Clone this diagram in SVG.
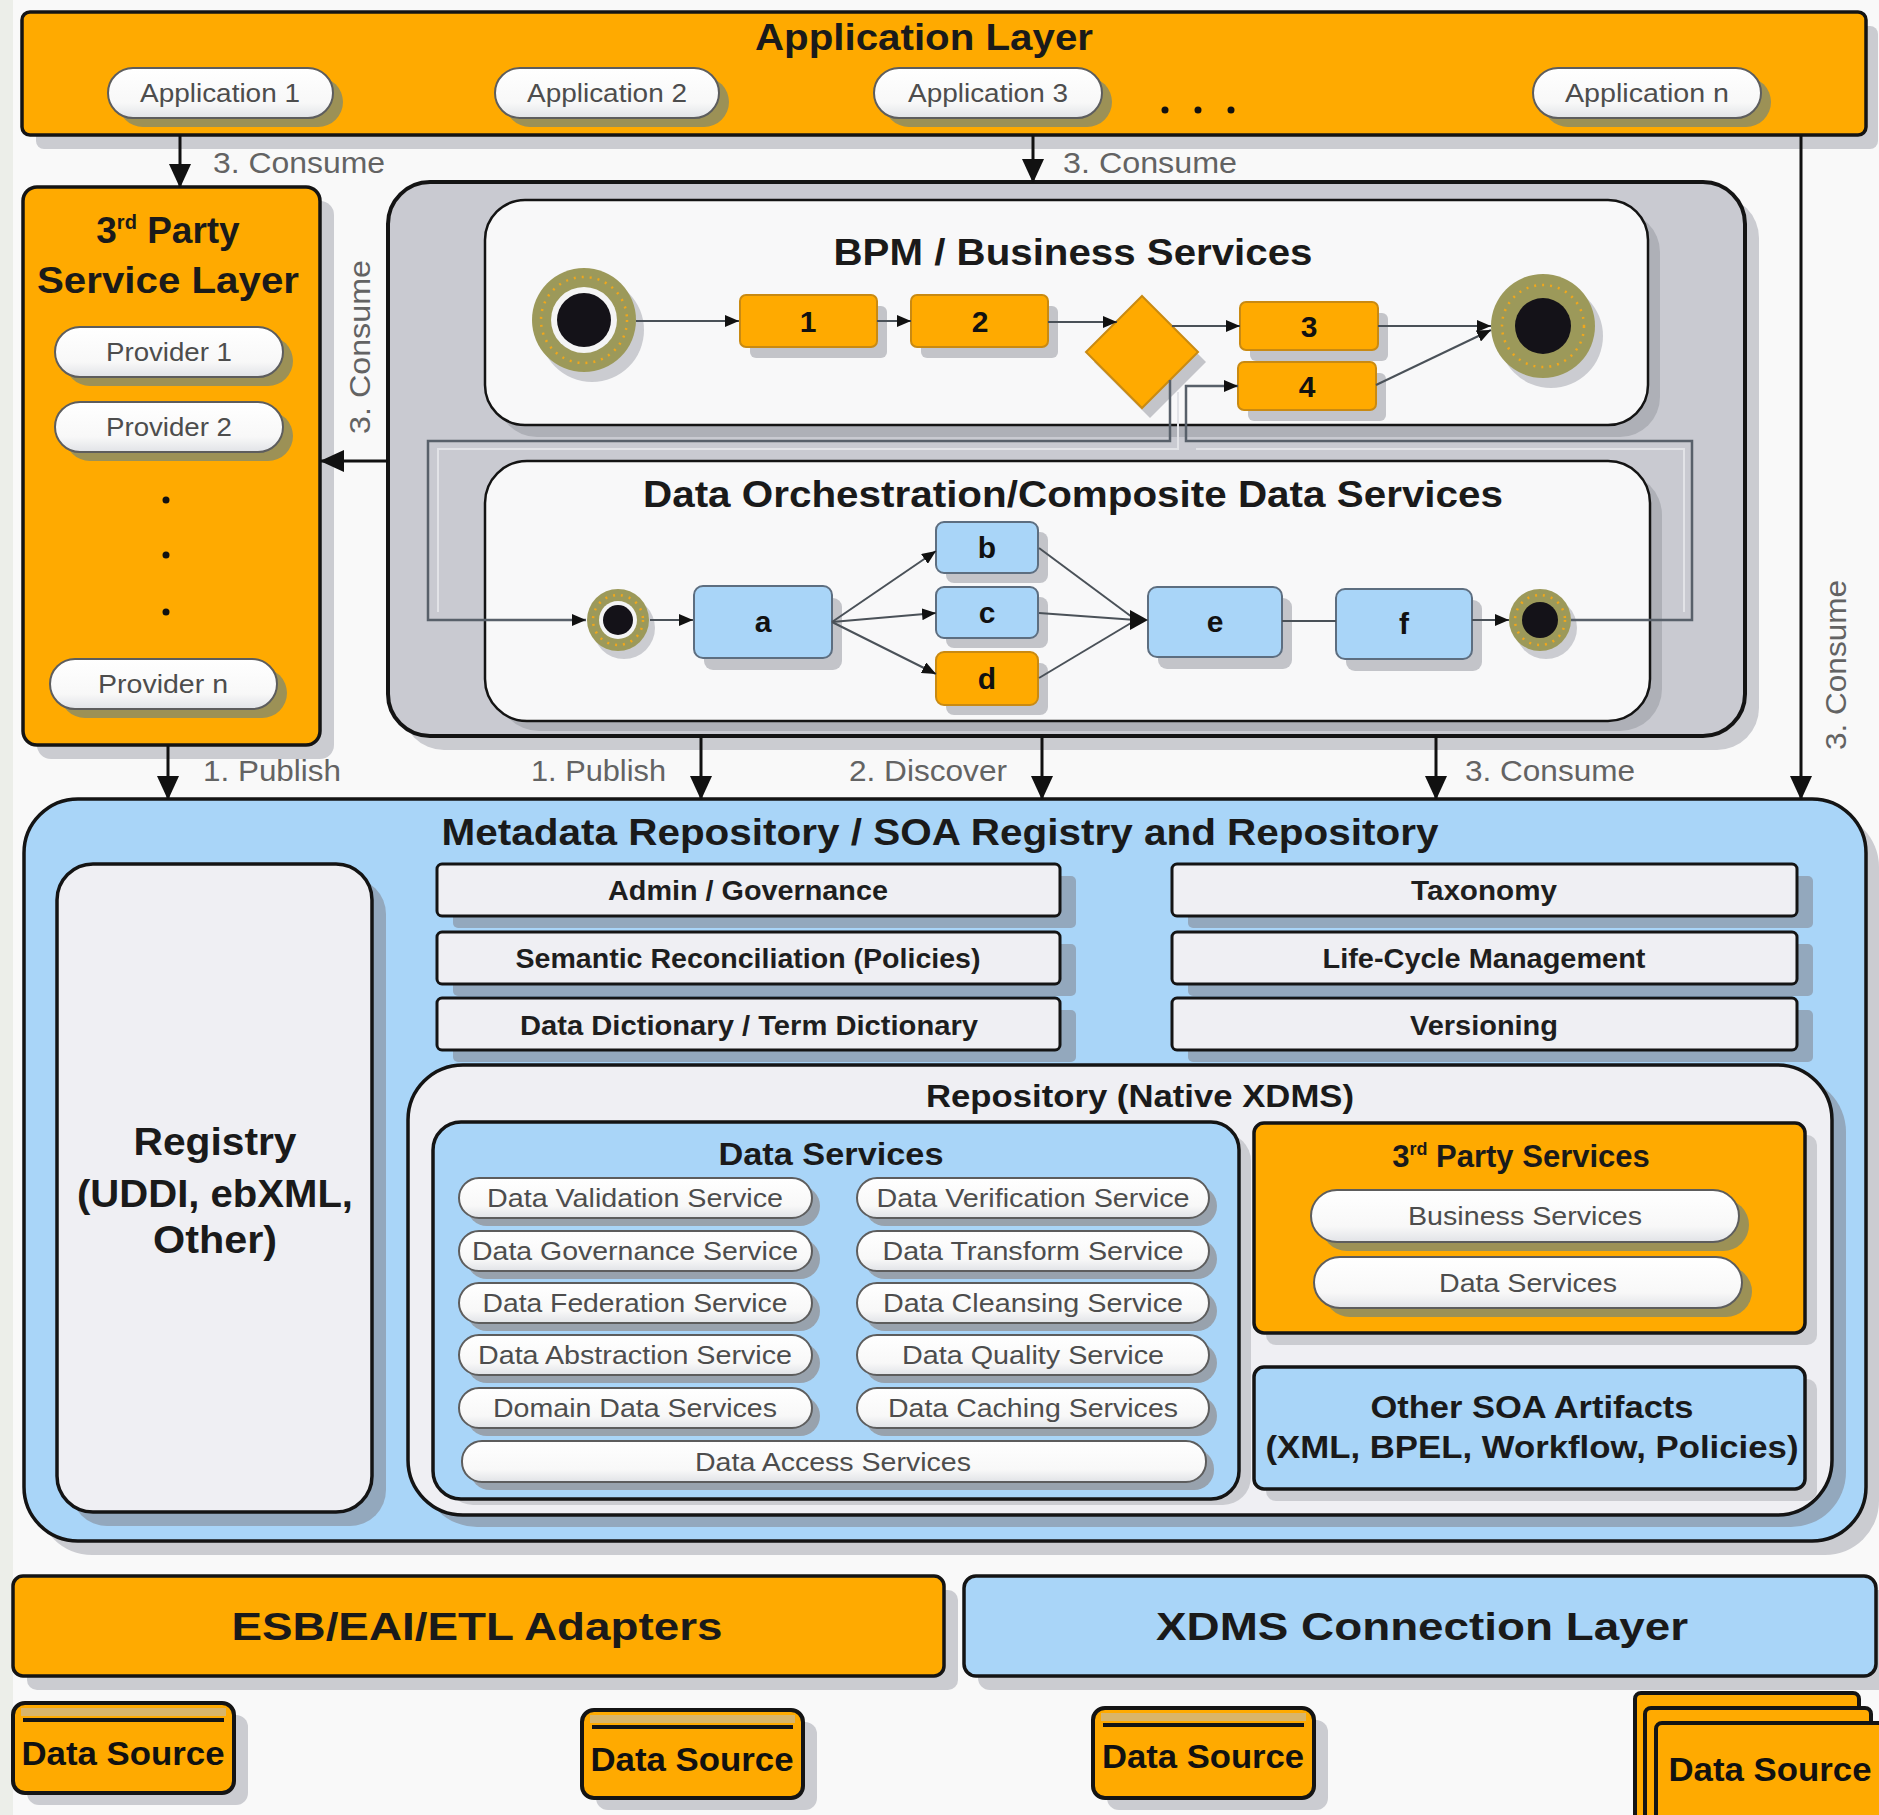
<svg xmlns="http://www.w3.org/2000/svg" width="1879" height="1815" viewBox="0 0 1879 1815">
<defs>
<style>
text{font-family:"Liberation Sans",Arial,Helvetica,sans-serif}
.ttl{font-weight:bold;fill:#1a1a1a;text-anchor:middle}
.lbl{font-size:30px;fill:#636363}
.pt{font-size:26px;fill:#4d4d4d;text-anchor:middle}
.bt{font-size:27px;font-weight:bold;fill:#1e1e1e;text-anchor:middle}
.bar{fill:#efeff3;stroke:#141414;stroke-width:3}
.barsh{fill:#93a8bd}
.orange{fill:#FFAA00;stroke:#141414;stroke-width:3.5}
.blue{fill:#A9D5F8;stroke:#141414;stroke-width:3.5}
.pale{fill:#efeff3;stroke:#141414;stroke-width:3.5}
.sh{fill:#cbccd1}
.sh2{fill:#aeb0b7}
.pill{fill:url(#pg);stroke:#5d5d5d;stroke-width:2}
.psho{fill:#9c9156}
.pshb{fill:#98a2ad}
.flow{stroke:#4a5158;stroke-width:2;fill:none}
.loop{stroke:#58606a;stroke-width:2.5;fill:none}
.loop2{stroke:#e2e3e7;stroke-width:2;fill:none}
.con{stroke:#111;stroke-width:3;fill:none}
.stepo{fill:#FFAA00;stroke:#c98a12;stroke-width:2}
.stepb{fill:#A9D5F8;stroke:#5d6e80;stroke-width:2}
.stepsh{fill:#c3c4c9}
.num{font-weight:bold;font-size:30px;fill:#111;text-anchor:middle}
.olive{fill:#9c995a}
.speck{fill:none;stroke:#f0a71c;stroke-width:2.5;stroke-dasharray:2 6}
.dot{fill:#111}
.ds{fill:#FFAA00;stroke:#141414;stroke-width:4}
.dsband{fill:#d9b56a}
.dsline{stroke:#141414;stroke-width:4}
.dst{font-size:34px;font-weight:bold;fill:#111;text-anchor:middle}
</style>
<linearGradient id="pg" x1="0" y1="0" x2="0" y2="1">
<stop offset="0" stop-color="#ffffff"/>
<stop offset="0.7" stop-color="#f8f8f8"/>
<stop offset="1" stop-color="#e1e3e7"/>
</linearGradient>
<marker id="big" markerWidth="24" markerHeight="22" refX="23" refY="11" orient="auto" markerUnits="userSpaceOnUse">
<path d="M0,0 L24,11 L0,22 z" fill="#111"/>
</marker>
<marker id="sm" markerWidth="14" markerHeight="12" refX="14" refY="6" orient="auto" markerUnits="userSpaceOnUse">
<path d="M0,0 L14,6 L0,12 z" fill="#111"/>
</marker>
</defs>

<rect x="0" y="0" width="1879" height="1815" fill="#f9f9f9"/>
<rect x="0" y="0" width="13" height="1815" fill="#eceee9"/>

<!-- Application Layer -->
<g id="application-layer">
<rect class="sh" x="36" y="26" width="1842" height="123" rx="8"/>
<rect class="orange" x="22" y="12" width="1844" height="123" rx="8"/>
<text class="ttl" x="924" y="50" font-size="36" textLength="338" lengthAdjust="spacingAndGlyphs">Application Layer</text>
<circle class="dot" cx="1165" cy="110" r="3.5"/>
<circle class="dot" cx="1198" cy="110" r="3.5"/>
<circle class="dot" cx="1231" cy="110" r="3.5"/>
</g>
<g id="app1">
<rect class="psho" x="118" y="77" width="225" height="50" rx="25"/>
<rect class="pill" x="108" y="68" width="225" height="50" rx="25"/>
<text class="pt" x="220" y="102" textLength="160" lengthAdjust="spacingAndGlyphs">Application 1</text>
</g>
<g id="app2">
<rect class="psho" x="505" y="77" width="224" height="50" rx="25"/>
<rect class="pill" x="495" y="68" width="224" height="50" rx="25"/>
<text class="pt" x="607" y="102" textLength="160" lengthAdjust="spacingAndGlyphs">Application 2</text>
</g>
<g id="app3">
<rect class="psho" x="884" y="77" width="228" height="50" rx="25"/>
<rect class="pill" x="874" y="68" width="228" height="50" rx="25"/>
<text class="pt" x="988" y="102" textLength="160" lengthAdjust="spacingAndGlyphs">Application 3</text>
</g>
<g id="appn">
<rect class="psho" x="1543" y="77" width="228" height="50" rx="25"/>
<rect class="pill" x="1533" y="68" width="228" height="50" rx="25"/>
<text class="pt" x="1647" y="102" textLength="164" lengthAdjust="spacingAndGlyphs">Application n</text>
</g>

<!-- 3rd Party Service Layer -->
<g id="third-party-layer">
<rect class="sh" x="37" y="201" width="297" height="558" rx="14"/>
<rect class="orange" x="23" y="187" width="297" height="558" rx="14"/>
<text class="ttl" x="168" y="243" font-size="37">3<tspan font-size="20" dy="-14">rd</tspan><tspan dy="14"> Party</tspan></text>
<text class="ttl" x="168" y="293" font-size="37" textLength="262" lengthAdjust="spacingAndGlyphs">Service Layer</text>
<circle class="dot" cx="166" cy="500" r="3.5"/>
<circle class="dot" cx="166" cy="555" r="3.5"/>
<circle class="dot" cx="166" cy="612" r="3.5"/>
</g>
<g id="provider1">
<rect class="psho" x="65" y="336" width="228" height="50" rx="25"/>
<rect class="pill" x="55" y="327" width="228" height="50" rx="25"/>
<text class="pt" x="169" y="361" textLength="126" lengthAdjust="spacingAndGlyphs">Provider 1</text>
</g>
<g id="provider2">
<rect class="psho" x="65" y="411" width="228" height="50" rx="25"/>
<rect class="pill" x="55" y="402" width="228" height="50" rx="25"/>
<text class="pt" x="169" y="436" textLength="126" lengthAdjust="spacingAndGlyphs">Provider 2</text>
</g>
<g id="providern">
<rect class="psho" x="60" y="668" width="227" height="50" rx="25"/>
<rect class="pill" x="50" y="659" width="227" height="50" rx="25"/>
<text class="pt" x="163" y="693" textLength="130" lengthAdjust="spacingAndGlyphs">Provider n</text>
</g>

<!-- BPM container -->
<g id="bpm-container">
<rect class="sh" x="402" y="196" width="1357" height="554" rx="42"/>
<rect x="388" y="182" width="1357" height="554" rx="42" fill="#c9cad1" stroke="#141414" stroke-width="4"/>
</g>
<g id="bpm-business-services">
<rect class="sh2" x="497" y="212" width="1163" height="225" rx="40"/>
<rect x="485" y="200" width="1163" height="225" rx="40" fill="#f8f8f9" stroke="#141414" stroke-width="2.5"/>
<text class="ttl" x="1073" y="265" font-size="37" textLength="479" lengthAdjust="spacingAndGlyphs">BPM / Business Services</text>
</g>
<g id="bpm-start">
<circle class="sh" cx="592" cy="330" r="52"/>
<circle class="olive" cx="584" cy="320" r="52"/>
<circle class="speck" cx="584" cy="320" r="43"/>
<circle cx="584" cy="320" r="33" fill="#f4f4f4"/>
<circle cx="584" cy="320" r="27" fill="#141218"/>
</g>
<g id="bpm-step1">
<rect class="stepsh" x="750" y="306" width="137" height="52" rx="6"/>
<rect class="stepo" x="740" y="295" width="137" height="52" rx="6"/>
<text class="num" x="808" y="332">1</text>
</g>
<g id="bpm-step2">
<rect class="stepsh" x="921" y="306" width="137" height="52" rx="6"/>
<rect class="stepo" x="911" y="295" width="137" height="52" rx="6"/>
<text class="num" x="980" y="332">2</text>
</g>
<g id="bpm-gateway">
<path d="M1150,306 L1206,362 L1150,418 L1094,362 z" class="stepsh"/>
<path d="M1142,296 L1198,352 L1142,408 L1086,352 z" fill="#FFAA00" stroke="#c98a12" stroke-width="2"/>
</g>
<g id="bpm-step3">
<rect class="stepsh" x="1250" y="313" width="138" height="48" rx="6"/>
<rect class="stepo" x="1240" y="302" width="138" height="48" rx="6"/>
<text class="num" x="1309" y="337">3</text>
</g>
<g id="bpm-step4">
<rect class="stepsh" x="1248" y="373" width="138" height="48" rx="6"/>
<rect class="stepo" x="1238" y="362" width="138" height="48" rx="6"/>
<text class="num" x="1307" y="397">4</text>
</g>
<g id="bpm-end">
<circle class="sh" cx="1551" cy="336" r="52"/>
<circle class="olive" cx="1543" cy="326" r="52"/>
<circle class="speck" cx="1543" cy="326" r="41"/>
<circle cx="1543" cy="326" r="28" fill="#141218"/>
</g>

<!-- Data Orchestration -->
<g id="data-orchestration">
<rect class="sh2" x="497" y="473" width="1165" height="258" rx="42"/>
<rect x="485" y="461" width="1165" height="260" rx="42" fill="#f8f8f9" stroke="#141414" stroke-width="2.5"/>
<text class="ttl" x="1073" y="507" font-size="37" textLength="860" lengthAdjust="spacingAndGlyphs">Data Orchestration/Composite Data Services</text>
</g>
<g id="do-start">
<circle class="sh" cx="624" cy="628" r="31"/>
<circle class="olive" cx="618" cy="620" r="31"/>
<circle class="speck" cx="618" cy="620" r="25"/>
<circle cx="618" cy="620" r="19" fill="#f4f4f4"/>
<circle cx="618" cy="620" r="15" fill="#141218"/>
</g>
<g id="do-a">
<rect class="stepsh" x="704" y="598" width="138" height="72" rx="9"/>
<rect class="stepb" x="694" y="586" width="138" height="72" rx="9"/>
<text class="num" x="763" y="632" font-size="28">a</text>
</g>
<g id="do-b">
<rect class="stepsh" x="946" y="532" width="102" height="51" rx="8"/>
<rect class="stepb" x="936" y="522" width="102" height="51" rx="8"/>
<text class="num" x="987" y="558" font-size="28">b</text>
</g>
<g id="do-c">
<rect class="stepsh" x="946" y="597" width="102" height="51" rx="8"/>
<rect class="stepb" x="936" y="587" width="102" height="51" rx="8"/>
<text class="num" x="987" y="623" font-size="28">c</text>
</g>
<g id="do-d">
<rect class="stepsh" x="946" y="663" width="102" height="52" rx="8"/>
<rect class="stepo" x="936" y="652" width="102" height="53" rx="8"/>
<text class="num" x="987" y="689" font-size="28">d</text>
</g>
<g id="do-e">
<rect class="stepsh" x="1158" y="598" width="134" height="71" rx="9"/>
<rect class="stepb" x="1148" y="587" width="134" height="70" rx="9"/>
<text class="num" x="1215" y="632" font-size="28">e</text>
</g>
<g id="do-f">
<rect class="stepsh" x="1346" y="600" width="136" height="71" rx="9"/>
<rect class="stepb" x="1336" y="589" width="136" height="70" rx="9"/>
<text class="num" x="1404" y="634" font-size="28">f</text>
</g>
<g id="do-end">
<circle class="sh" cx="1546" cy="628" r="31"/>
<circle class="olive" cx="1540" cy="620" r="31"/>
<circle class="speck" cx="1540" cy="620" r="25"/>
<circle cx="1540" cy="620" r="18" fill="#141218"/>
</g>

<!-- Metadata Repository -->
<g id="metadata-repository">
<rect class="sh" x="38" y="813" width="1841" height="742" rx="54"/>
<rect class="blue" x="24" y="799" width="1842" height="742" rx="54"/>
<text class="ttl" x="940" y="845" font-size="36" textLength="997" lengthAdjust="spacingAndGlyphs">Metadata Repository / SOA Registry and Repository</text>
</g>
<g id="registry">
<rect class="barsh" x="71" y="878" width="315" height="648" rx="36"/>
<rect class="pale" x="57" y="864" width="315" height="648" rx="36"/>
<text class="ttl" x="215" y="1155" font-size="38" textLength="163" lengthAdjust="spacingAndGlyphs">Registry</text>
<text class="ttl" x="215" y="1207" font-size="38" textLength="276" lengthAdjust="spacingAndGlyphs">(UDDI, ebXML,</text>
<text class="ttl" x="215" y="1253" font-size="38" textLength="124" lengthAdjust="spacingAndGlyphs">Other)</text>
</g>
<g id="admin-governance">
<rect class="barsh" x="453" y="876" width="623" height="52" rx="5"/>
<rect class="bar" x="437" y="864" width="623" height="52" rx="5"/>
<text class="bt" x="748" y="900" textLength="280" lengthAdjust="spacingAndGlyphs">Admin / Governance</text>
</g>
<g id="semantic-reconciliation">
<rect class="barsh" x="453" y="944" width="623" height="52" rx="5"/>
<rect class="bar" x="437" y="932" width="623" height="52" rx="5"/>
<text class="bt" x="748" y="968" textLength="465" lengthAdjust="spacingAndGlyphs">Semantic Reconciliation (Policies)</text>
</g>
<g id="data-dictionary">
<rect class="barsh" x="453" y="1010" width="623" height="52" rx="5"/>
<rect class="bar" x="437" y="998" width="623" height="52" rx="5"/>
<text class="bt" x="749" y="1035" textLength="458" lengthAdjust="spacingAndGlyphs">Data Dictionary / Term Dictionary</text>
</g>
<g id="taxonomy">
<rect class="barsh" x="1188" y="876" width="625" height="52" rx="5"/>
<rect class="bar" x="1172" y="864" width="625" height="52" rx="5"/>
<text class="bt" x="1484" y="900" textLength="146" lengthAdjust="spacingAndGlyphs">Taxonomy</text>
</g>
<g id="life-cycle-management">
<rect class="barsh" x="1188" y="944" width="625" height="52" rx="5"/>
<rect class="bar" x="1172" y="932" width="625" height="52" rx="5"/>
<text class="bt" x="1484" y="968" textLength="323" lengthAdjust="spacingAndGlyphs">Life-Cycle Management</text>
</g>
<g id="versioning">
<rect class="barsh" x="1188" y="1010" width="625" height="52" rx="5"/>
<rect class="bar" x="1172" y="998" width="625" height="52" rx="5"/>
<text class="bt" x="1484" y="1035" textLength="148" lengthAdjust="spacingAndGlyphs">Versioning</text>
</g>

<g id="repository">
<rect class="barsh" x="422" y="1077" width="1424" height="450" rx="55"/>
<rect class="pale" x="408" y="1065" width="1424" height="450" rx="55"/>
<text class="ttl" x="1140" y="1107" font-size="32" textLength="428" lengthAdjust="spacingAndGlyphs">Repository (Native XDMS)</text>
</g>
<g id="data-services">
<rect class="sh" x="445" y="1133" width="806" height="372" rx="28"/>
<rect class="blue" x="433" y="1122" width="806" height="377" rx="28"/>
<text class="ttl" x="831" y="1165" font-size="32" textLength="225" lengthAdjust="spacingAndGlyphs">Data Services</text>
</g>
<g id="ds-validation">
<rect class="pshb" x="467" y="1186" width="353" height="40" rx="20"/>
<rect class="pill" x="459" y="1178" width="353" height="40" rx="20"/>
<text class="pt" x="635" y="1207" textLength="296" lengthAdjust="spacingAndGlyphs">Data Validation Service</text>
</g>
<g id="ds-governance">
<rect class="pshb" x="467" y="1239" width="353" height="40" rx="20"/>
<rect class="pill" x="459" y="1231" width="353" height="40" rx="20"/>
<text class="pt" x="635" y="1260" textLength="326" lengthAdjust="spacingAndGlyphs">Data Governance Service</text>
</g>
<g id="ds-federation">
<rect class="pshb" x="467" y="1291" width="353" height="40" rx="20"/>
<rect class="pill" x="459" y="1283" width="353" height="40" rx="20"/>
<text class="pt" x="635" y="1312" textLength="305" lengthAdjust="spacingAndGlyphs">Data Federation Service</text>
</g>
<g id="ds-abstraction">
<rect class="pshb" x="467" y="1343" width="353" height="40" rx="20"/>
<rect class="pill" x="459" y="1335" width="353" height="40" rx="20"/>
<text class="pt" x="635" y="1364" textLength="314" lengthAdjust="spacingAndGlyphs">Data Abstraction Service</text>
</g>
<g id="ds-domain">
<rect class="pshb" x="467" y="1396" width="353" height="40" rx="20"/>
<rect class="pill" x="459" y="1388" width="353" height="40" rx="20"/>
<text class="pt" x="635" y="1417" textLength="284" lengthAdjust="spacingAndGlyphs">Domain Data Services</text>
</g>
<g id="ds-verification">
<rect class="pshb" x="865" y="1186" width="352" height="40" rx="20"/>
<rect class="pill" x="857" y="1178" width="352" height="40" rx="20"/>
<text class="pt" x="1033" y="1207" textLength="313" lengthAdjust="spacingAndGlyphs">Data Verification Service</text>
</g>
<g id="ds-transform">
<rect class="pshb" x="865" y="1239" width="352" height="40" rx="20"/>
<rect class="pill" x="857" y="1231" width="352" height="40" rx="20"/>
<text class="pt" x="1033" y="1260" textLength="301" lengthAdjust="spacingAndGlyphs">Data Transform Service</text>
</g>
<g id="ds-cleansing">
<rect class="pshb" x="865" y="1291" width="352" height="40" rx="20"/>
<rect class="pill" x="857" y="1283" width="352" height="40" rx="20"/>
<text class="pt" x="1033" y="1312" textLength="300" lengthAdjust="spacingAndGlyphs">Data Cleansing Service</text>
</g>
<g id="ds-quality">
<rect class="pshb" x="865" y="1343" width="352" height="40" rx="20"/>
<rect class="pill" x="857" y="1335" width="352" height="40" rx="20"/>
<text class="pt" x="1033" y="1364" textLength="262" lengthAdjust="spacingAndGlyphs">Data Quality Service</text>
</g>
<g id="ds-caching">
<rect class="pshb" x="865" y="1396" width="352" height="40" rx="20"/>
<rect class="pill" x="857" y="1388" width="352" height="40" rx="20"/>
<text class="pt" x="1033" y="1417" textLength="290" lengthAdjust="spacingAndGlyphs">Data Caching Services</text>
</g>
<g id="ds-access">
<rect class="pshb" x="470" y="1449" width="744" height="41" rx="20"/>
<rect class="pill" x="462" y="1441" width="744" height="41" rx="20"/>
<text class="pt" x="833" y="1471" textLength="276" lengthAdjust="spacingAndGlyphs">Data Access Services</text>
</g>

<g id="third-party-services">
<rect class="sh" x="1266" y="1135" width="551" height="210" rx="10"/>
<rect class="orange" x="1254" y="1123" width="551" height="210" rx="10"/>
<text class="ttl" x="1521" y="1167" font-size="31">3<tspan font-size="18" dy="-12">rd</tspan><tspan dy="12"> Party Services</tspan></text>
</g>
<g id="tp-business-services">
<rect class="psho" x="1321" y="1199" width="428" height="52" rx="26"/>
<rect class="pill" x="1311" y="1190" width="428" height="52" rx="26"/>
<text class="pt" x="1525" y="1225" textLength="234" lengthAdjust="spacingAndGlyphs">Business Services</text>
</g>
<g id="tp-data-services">
<rect class="psho" x="1324" y="1266" width="428" height="51" rx="26"/>
<rect class="pill" x="1314" y="1257" width="428" height="51" rx="26"/>
<text class="pt" x="1528" y="1292" textLength="178" lengthAdjust="spacingAndGlyphs">Data Services</text>
</g>
<g id="other-soa-artifacts">
<rect class="sh" x="1266" y="1379" width="551" height="122" rx="10"/>
<rect class="blue" x="1254" y="1367" width="551" height="122" rx="10"/>
<text class="ttl" x="1532" y="1418" font-size="32" textLength="323" lengthAdjust="spacingAndGlyphs">Other SOA Artifacts</text>
<text class="ttl" x="1532" y="1458" font-size="32" textLength="533" lengthAdjust="spacingAndGlyphs">(XML, BPEL, Workflow, Policies)</text>
</g>

<!-- Bottom layers -->
<g id="esb-adapters">
<rect class="sh" x="27" y="1590" width="931" height="100" rx="10"/>
<rect class="orange" x="13" y="1576" width="931" height="100" rx="10"/>
<text class="ttl" x="477" y="1640" font-size="38" textLength="491" lengthAdjust="spacingAndGlyphs">ESB/EAI/ETL Adapters</text>
</g>
<g id="xdms-connection-layer">
<rect class="sh" x="978" y="1590" width="912" height="100" rx="12"/>
<rect class="blue" x="964" y="1576" width="912" height="100" rx="12"/>
<text class="ttl" x="1422" y="1640" font-size="38" textLength="532" lengthAdjust="spacingAndGlyphs">XDMS Connection Layer</text>
</g>

<g id="data-source-1">
<rect class="sh" x="27" y="1715" width="221" height="90" rx="12"/>
<rect class="ds" x="13" y="1703" width="221" height="90" rx="12"/>
<rect class="dsband" x="21" y="1708" width="205" height="8"/>
<line class="dsline" x1="23" y1="1720" x2="224" y2="1720"/>
<text class="dst" x="123" y="1765" textLength="203" lengthAdjust="spacingAndGlyphs">Data Source</text>
</g>
<g id="data-source-2">
<rect class="sh" x="596" y="1722" width="221" height="88" rx="12"/>
<rect class="ds" x="582" y="1710" width="221" height="88" rx="12"/>
<rect class="dsband" x="590" y="1715" width="205" height="8"/>
<line class="dsline" x1="592" y1="1727" x2="793" y2="1727"/>
<text class="dst" x="692" y="1771" textLength="203" lengthAdjust="spacingAndGlyphs">Data Source</text>
</g>
<g id="data-source-3">
<rect class="sh" x="1107" y="1720" width="221" height="90" rx="12"/>
<rect class="ds" x="1093" y="1708" width="221" height="90" rx="12"/>
<rect class="dsband" x="1101" y="1713" width="205" height="8"/>
<line class="dsline" x1="1103" y1="1725" x2="1304" y2="1725"/>
<text class="dst" x="1203" y="1768" textLength="202" lengthAdjust="spacingAndGlyphs">Data Source</text>
</g>
<g id="data-source-4">
<rect class="ds" x="1635" y="1693" width="224" height="140" rx="6"/>
<rect class="ds" x="1645" y="1708" width="226" height="140" rx="6"/>
<rect class="ds" x="1656" y="1723" width="232" height="140" rx="6"/>
<text class="dst" x="1770" y="1781" textLength="203" lengthAdjust="spacingAndGlyphs">Data Source</text>
</g>

<!-- Connectors -->
<g id="connectors">
<line class="con" x1="180" y1="135" x2="180" y2="187" marker-end="url(#big)"/>
<line class="con" x1="1033" y1="135" x2="1033" y2="182" marker-end="url(#big)"/>
<line class="con" x1="1801" y1="135" x2="1801" y2="799" marker-end="url(#big)"/>
<line class="con" x1="388" y1="461" x2="321" y2="461" marker-end="url(#big)"/>
<line class="con" x1="168" y1="745" x2="168" y2="799" marker-end="url(#big)"/>
<line class="con" x1="701" y1="736" x2="701" y2="799" marker-end="url(#big)"/>
<line class="con" x1="1042" y1="736" x2="1042" y2="799" marker-end="url(#big)"/>
<line class="con" x1="1436" y1="736" x2="1436" y2="799" marker-end="url(#big)"/>

<text class="lbl" x="213" y="173" textLength="172" lengthAdjust="spacingAndGlyphs">3. Consume</text>
<text class="lbl" x="1063" y="173" textLength="174" lengthAdjust="spacingAndGlyphs">3. Consume</text>
<text class="lbl" text-anchor="middle" transform="translate(370,347) rotate(-90)" textLength="174" lengthAdjust="spacingAndGlyphs">3. Consume</text>
<text class="lbl" text-anchor="middle" transform="translate(1846,665) rotate(-90)" textLength="170" lengthAdjust="spacingAndGlyphs">3. Consume</text>
<text class="lbl" x="203" y="781" textLength="138" lengthAdjust="spacingAndGlyphs">1. Publish</text>
<text class="lbl" x="531" y="781" textLength="135" lengthAdjust="spacingAndGlyphs">1. Publish</text>
<text class="lbl" x="849" y="781" textLength="158" lengthAdjust="spacingAndGlyphs">2. Discover</text>
<text class="lbl" x="1465" y="781" textLength="170" lengthAdjust="spacingAndGlyphs">3. Consume</text>

<!-- BPM flow -->
<line class="flow" x1="636" y1="321" x2="739" y2="321" marker-end="url(#sm)"/>
<line class="flow" x1="877" y1="321" x2="911" y2="321" marker-end="url(#sm)"/>
<line class="flow" x1="1048" y1="322" x2="1117" y2="322" marker-end="url(#sm)"/>
<line class="flow" x1="1172" y1="326" x2="1240" y2="326" marker-end="url(#sm)"/>
<line class="flow" x1="1378" y1="326" x2="1491" y2="326" marker-end="url(#sm)"/>
<line class="flow" x1="1376" y1="385" x2="1491" y2="330" marker-end="url(#sm)"/>

<!-- Loop between BPM and data orchestration -->
<polyline class="loop2" points="1178,392 1178,449 438,449 438,612"/>
<polyline class="loop2" points="1196,449 1684,449 1684,612"/>
<polyline class="loop" points="1170,380 1170,441 428,441 428,620 586,620" marker-end="url(#sm)"/>
<polyline class="loop" points="1571,620 1692,620 1692,441 1186,441 1186,386 1238,386" marker-end="url(#sm)"/>

<!-- Data orchestration flow -->
<line class="flow" x1="650" y1="620" x2="693" y2="620" marker-end="url(#sm)"/>
<line class="flow" x1="832" y1="622" x2="936" y2="551" marker-end="url(#sm)"/>
<line class="flow" x1="832" y1="622" x2="936" y2="613" marker-end="url(#sm)"/>
<line class="flow" x1="832" y1="622" x2="936" y2="674" marker-end="url(#sm)"/>
<line class="flow" x1="1039" y1="548" x2="1136" y2="620"/>
<line class="flow" x1="1039" y1="613" x2="1136" y2="620"/>
<line class="flow" x1="1039" y1="678" x2="1136" y2="620"/>
<path d="M1130,610 L1148,620 L1130,630 z" fill="#111"/>
<line class="flow" x1="1282" y1="621" x2="1336" y2="621"/>
<line class="flow" x1="1472" y1="620" x2="1509" y2="620" marker-end="url(#sm)"/>
</g>
</svg>
